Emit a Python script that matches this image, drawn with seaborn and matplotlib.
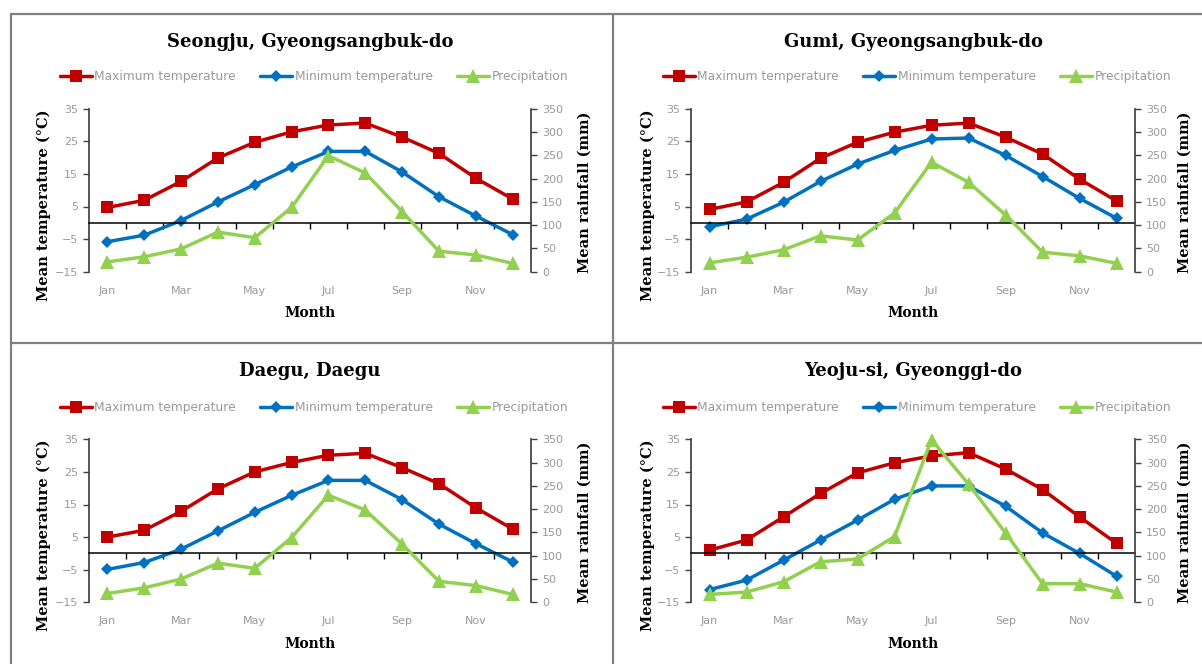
import numpy as np
import matplotlib
matplotlib.use('Agg')
import matplotlib.pyplot as plt
import seaborn as sns
from matplotlib.lines import Line2D

# monthly climate normals
months = ['Jan', 'Feb', 'Mar', 'Apr', 'May', 'Jun', 'Jul', 'Aug', 'Sep', 'Oct', 'Nov', 'Dec']
stations = ['Seongju, Gyeongsangbuk-do', 'Gumi, Gyeongsangbuk-do', 'Daegu, Daegu', 'Yeoju-si, Gyeonggi-do']

seongju_tmax = [4.7, 6.9, 12.7, 19.9, 24.7, 27.9, 30.0, 30.6, 26.3, 21.3, 13.7, 7.3]
seongju_tmin = [-5.8, -3.8, 0.7, 6.4, 11.7, 17.1, 21.9, 21.9, 15.6, 8.0, 2.1, -3.6]
seongju_rain = [21, 32, 49, 85, 73, 138, 249, 212, 129, 44, 36, 18]

gumi_tmax = [4.1, 6.4, 12.4, 19.8, 24.7, 27.8, 29.9, 30.6, 26.3, 21.1, 13.4, 6.7]
gumi_tmin = [-1.2, 1.1, 6.3, 12.7, 18.0, 22.2, 25.7, 26.0, 20.7, 14.2, 7.5, 1.4]
gumi_rain = [19, 31, 47, 77, 68, 126, 235, 192, 122, 42, 34, 18]

daegu_tmax = [5.0, 7.1, 12.9, 19.8, 25.0, 27.9, 30.1, 30.7, 26.3, 21.4, 14.0, 7.5]
daegu_tmin = [-4.9, -2.8, 1.3, 6.9, 12.6, 17.8, 22.4, 22.4, 16.5, 9.0, 3.0, -2.6]
daegu_rain = [19, 31, 50, 84, 73, 139, 230, 198, 125, 45, 36, 17]

yeoju_tmax = [1.0, 4.1, 11.2, 18.4, 24.7, 27.8, 29.9, 30.9, 25.9, 19.6, 11.2, 3.1]
yeoju_tmin = [-11.1, -8.2, -2.1, 4.1, 10.2, 16.6, 20.7, 20.7, 14.5, 6.3, 0.0, -7.0]
yeoju_rain = [17, 22, 44, 87, 93, 141, 349, 254, 149, 40, 40, 22]

tmax = [seongju_tmax, gumi_tmax, daegu_tmax, yeoju_tmax]
tmin = [seongju_tmin, gumi_tmin, daegu_tmin, yeoju_tmin]
rain = [seongju_rain, gumi_rain, daegu_rain, yeoju_rain]

temp_ticks = [-15, -5, 5, 15, 25, 35]
rain_ticks = [0, 50, 100, 150, 200, 250, 300, 350]

sns.set_theme(style='white')
plt.rcParams['font.family'] = ['DejaVu Sans']

W, H = 1202, 664
fig = plt.figure(figsize=(W / 100, H / 100), dpi=100)


def fx(px):
    return px / W


def fy(py):
    return 1 - py / H


RED, BLUE, GREEN = '#C00000', '#0070C0', '#92D050'
GRAY = '#999999'
serif_bold = dict(family='DejaVu Serif', weight='bold', color='black')

# panel layout in pixels: left, right, left label x, right label x
cols = [(89, 531, 43.6, 585), (691, 1135, 648, 1185)]
rows = [0, 330.6]

x = np.arange(12)
for i in range(4):
    left, right, ylx, yrx = cols[i % 2]
    dy = rows[i // 2]
    top, bottom = 108.7 + dy, 271.7 + dy
    ax = fig.add_axes([fx(left), fy(bottom), (right - left) / W, (bottom - top) / H])
    ax2 = ax.twinx()

    sns.lineplot(x=x, y=tmax[i], ax=ax, color=RED, marker='s', markersize=8,
                 linewidth=2.5, markeredgewidth=0, label='Maximum temperature')
    sns.lineplot(x=x, y=tmin[i], ax=ax, color=BLUE, marker='D', markersize=6.5,
                 linewidth=2.5, markeredgewidth=0, label='Minimum temperature')
    sns.lineplot(x=x, y=rain[i], ax=ax2, color=GREEN, marker='^', markersize=9.5,
                 linewidth=2.5, markeredgewidth=0, label='Precipitation')
    for ln in ax2.lines:
        ln.set_clip_on(False)

    h1, l1 = ax.get_legend_handles_labels()
    h2, l2 = ax2.get_legend_handles_labels()
    ax.get_legend().remove()
    ax2.get_legend().remove()

    ax.set_xlim(-0.5, 11.5)
    ax.set_ylim(-15, 35)
    ax2.set_ylim(0, 350)
    ax.set_yticks(temp_ticks)
    ax2.set_yticks(rain_ticks)
    ax.set_ylabel('')
    ax2.set_ylabel('')

    # category axis crosses at zero, tick marks between months
    ax.spines['bottom'].set_position(('data', 0))
    ax.spines['bottom'].set_color('black')
    ax.spines['bottom'].set_linewidth(1.1)
    ax.set_xticks(x)
    ax.set_xticklabels([])
    ax.set_xticks(np.arange(0.5, 11, 1), minor=True)
    ax.tick_params(axis='x', which='major', length=0)
    ax.tick_params(axis='x', which='minor', bottom=True, length=4, width=1, color='black', direction='out')
    ax.tick_params(axis='y', left=True, length=4, width=1, color='#404040', labelsize=8, labelcolor=GRAY, pad=4)
    ax2.tick_params(axis='y', right=True, length=4, width=1, color='#404040', labelsize=8, labelcolor=GRAY, pad=4)
    for s in ['top', 'right']:
        ax.spines[s].set_visible(False)
    for s in ['top', 'bottom', 'left']:
        ax2.spines[s].set_visible(False)
    ax.spines['left'].set_color('#404040')
    ax2.spines['right'].set_color('#404040')
    ax.grid(False)
    ax2.grid(False)

    sec = ax.secondary_xaxis('bottom')
    sec.set_xticks(x[::2], [months[k] for k in x[::2]])
    sec.tick_params(length=0, pad=10, labelsize=8, labelcolor=GRAY)
    sec.spines['bottom'].set_visible(False)

    cx = (left + right) / 2
    fig.text(fx(cx), fy(42 + dy * 0.995), stations[i], ha='center', va='center', fontsize=13, **serif_bold)
    fig.text(fx(cx), fy(313 + dy), 'Month', ha='center', va='center', fontsize=10, **serif_bold)
    fig.text(fx(ylx), fy(205 + dy), 'Mean temperature (°C)', rotation=90, ha='center', va='center',
             fontsize=10.5, **serif_bold)
    fig.text(fx(yrx), fy(192 + dy), 'Mean rainfall (mm)', rotation=90, ha='center', va='center',
             fontsize=10.5, **serif_bold)

    ax2.legend(h1 + h2, l1 + l2, loc='center', bbox_to_anchor=(fx(cx + 4), fy(76.7 + dy)),
               bbox_transform=fig.transFigure, ncol=3, frameon=False, fontsize=8.8,
               labelcolor=GRAY, handlelength=2.6, handletextpad=0.2, columnspacing=2.0)

# panel frames
frame = dict(color='#808080', linewidth=1.6, transform=fig.transFigure)
fig.add_artist(Line2D([fx(11), 1], [fy(14), fy(14)], **frame))
fig.add_artist(Line2D([fx(11), 1], [fy(343), fy(343)], **frame))
fig.add_artist(Line2D([fx(11), fx(11)], [fy(14), 0], **frame))
fig.add_artist(Line2D([fx(613), fx(613)], [fy(14), 0], **frame))

fig.savefig('out.png', dpi=100, facecolor='white')
